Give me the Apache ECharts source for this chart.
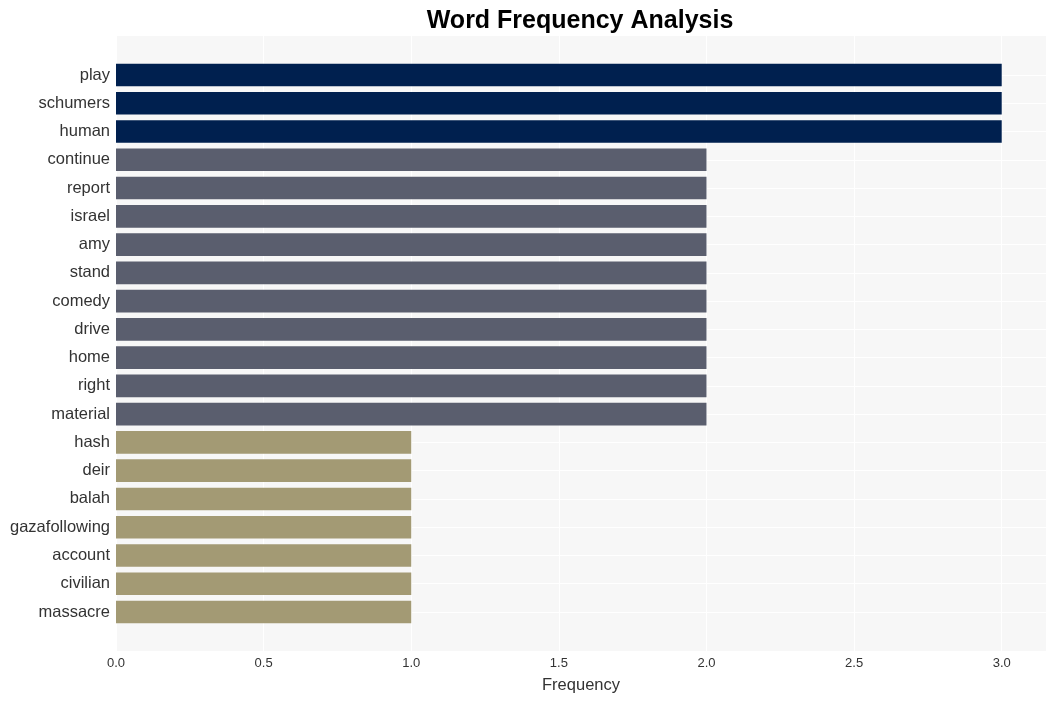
<!DOCTYPE html>
<html>
<head>
<meta charset="utf-8">
<script src="https://cdn.jsdelivr.net/npm/echarts@6/dist/echarts.min.js"></script>
<style>html,body{margin:0;padding:0;background:#fff}#c{width:1055px;height:701px}</style>
</head>
<body>
<div id="c"></div>
<script>
const categories = ["play","schumers","human","continue","report","israel","amy","stand","comedy","drive","home","right","material","hash","deir","balah","gazafollowing","account","civilian","massacre"];
const frequencies = [3,3,3,2,2,2,2,2,2,2,2,2,2,1,1,1,1,1,1,1];
const xTicks = [0, 0.5, 1.0, 1.5, 2.0, 2.5, 3.0];
const colorByValue = {3: "#00204f", 2: "#5a5e6e", 1: "#a39a74"};

const chart = echarts.init(document.getElementById('c'));
const LEFT = 116, RIGHT = 9;
const FONT = 'Liberation Sans, Arial, sans-serif';
chart.setOption({
  animation: false,
  title: {
    text: "Word Frequency Analysis",
    left: 575, top: 4, textAlign: 'center',
    textStyle: {fontFamily: FONT, fontSize: 25, fontWeight: 'bold', color: '#000'}
  },
  grid: [
    {left: LEFT, right: RIGHT, top: 36, bottom: 50, show: true, backgroundColor: '#f7f7f7', borderWidth: 0},
    {left: LEFT, right: RIGHT, top: 60.9, bottom: 74.9, show: false}
  ],
  xAxis: [
    {
      gridIndex: 0, type: 'value', min: 0, max: 3.15, interval: 0.5,
      axisLine: {show: false}, axisTick: {show: false},
      splitLine: {show: true, lineStyle: {color: '#ffffff', width: 1}},
      axisLabel: {
        showMaxLabel: false, color: '#333', fontSize: 13, margin: 6,
        fontFamily: FONT,
        formatter: v => xTicks.some(t => Math.abs(t - v) < 1e-9) ? v.toFixed(1) : ''
      },
      name: 'Frequency', nameLocation: 'middle', nameGap: 26,
      nameTextStyle: {color: '#333', fontSize: 16.5, fontFamily: FONT}
    },
    {
      gridIndex: 1, type: 'value', min: 0, max: 3.15, show: false,
      splitLine: {show: false}
    }
  ],
  yAxis: [
    {gridIndex: 0, type: 'value', show: false, splitLine: {show: false}},
    {
      gridIndex: 1, type: 'category', data: categories, inverse: true,
      axisLine: {show: false}, axisTick: {show: false},
      splitLine: {show: true, alignWithLabel: true, lineStyle: {color: '#ffffff', width: 1}},
      axisLabel: {color: '#333', fontSize: 16.5, margin: 6, padding: [9, 0, 0, 0], fontFamily: FONT}
    }
  ],
  series: [{
    type: 'bar', xAxisIndex: 1, yAxisIndex: 1,
    data: frequencies, barWidth: '80%',
    itemStyle: {color: p => colorByValue[p.value]}
  }]
});
</script>
</body>
</html>
